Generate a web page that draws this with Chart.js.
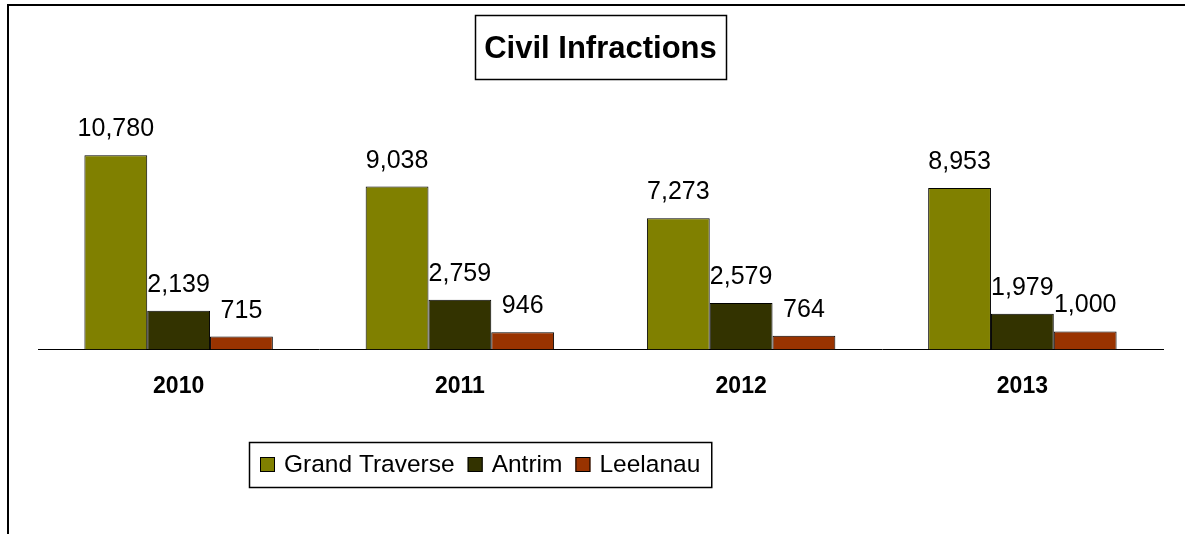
<!DOCTYPE html>
<html lang="en">
<head>
    <meta charset="UTF-8">
    <title>Civil Infractions</title>
    <style>
        html, body {
            margin: 0;
            padding: 0;
            background-color: #fff;
        }
        #wrap {
            width: 1185px;
            height: 534px;
        }
    </style>
    <script src="https://cdn.jsdelivr.net/npm/chart.js"></script>
</head>
<body>
    <div id="wrap"><canvas id="infractionsChart"></canvas></div>
    <script>
        // Values
        const years = ['2010', '2011', '2012', '2013'];
        const grandTraverse = [10780, 9038, 7273, 8953];
        const antrim = [2139, 2759, 2579, 1979];
        const leelanau = [715, 946, 764, 1000];

        const FONT = 'Arial, "Liberation Sans", sans-serif';

        // Frame lines on the left and top edge of the picture
        const framePlugin = {
            id: 'frame',
            beforeDraw(chart) {
                const ctx = chart.ctx;
                ctx.save();
                ctx.strokeStyle = '#000';
                ctx.lineWidth = 2;
                ctx.beginPath();
                ctx.moveTo(8, chart.height);
                ctx.lineTo(8, 5);
                ctx.lineTo(chart.width, 5);
                ctx.stroke();
                ctx.restore();
            }
        };

        // Box around the title text
        const titleBoxPlugin = {
            id: 'titleBox',
            afterDraw(chart) {
                const t = chart.titleBlock;
                const opts = chart.options.plugins.title;
                const ctx = chart.ctx;
                ctx.save();
                ctx.font = 'bold ' + opts.font.size + 'px ' + FONT;
                const w = ctx.measureText(opts.text).width;
                const cx = (t.left + t.right) / 2;
                ctx.strokeStyle = '#000';
                ctx.lineWidth = 1.5;
                ctx.strokeRect(Math.round(cx - w / 2 - 9) + 0.5, t.top + 15.5, Math.round(w + 18), 64);
                ctx.restore();
            }
        };

        // Value labels above each bar
        const valueLabelPlugin = {
            id: 'valueLabels',
            afterDatasetsDraw(chart) {
                const ctx = chart.ctx;
                ctx.save();
                ctx.font = '25px ' + FONT;
                ctx.fillStyle = '#000';
                ctx.textAlign = 'center';
                ctx.textBaseline = 'alphabetic';
                chart.data.datasets.forEach((ds, i) => {
                    chart.getDatasetMeta(i).data.forEach((bar, j) => {
                        ctx.fillText(ds.data[j].toLocaleString('en-US'), bar.x, bar.y - 19);
                    });
                });
                ctx.restore();
            }
        };

        // Boxed legend under the axis, drawn from the datasets
        const boxedLegendPlugin = {
            id: 'boxedLegend',
            afterDraw(chart) {
                const ctx = chart.ctx;
                const left = 249, top = 442, height = 45;
                const cy = top + height / 2;
                ctx.save();
                ctx.font = '24.5px ' + FONT;
                ctx.textBaseline = 'middle';
                ctx.textAlign = 'left';
                let x = left + 11;
                chart.data.datasets.forEach((ds, i) => {
                    ctx.fillStyle = ds.backgroundColor;
                    ctx.fillRect(x, cy - 7.5, 15, 15);
                    ctx.strokeStyle = '#000';
                    ctx.lineWidth = 1;
                    ctx.strokeRect(x + 0.5, cy - 7, 14, 14);
                    x += 15 + 9;
                    ctx.fillStyle = '#000';
                    ctx.fillText(ds.label, x, cy + 1);
                    x += ctx.measureText(ds.label).width;
                    if (i < chart.data.datasets.length - 1) x += 13;
                });
                x += 11;
                ctx.lineWidth = 1.5;
                ctx.strokeRect(left + 0.5, top + 0.5, x - left, height);
                ctx.restore();
            }
        };

        const config = {
            type: 'bar',
            data: {
                labels: years,
                datasets: [
                    { label: 'Grand Traverse', data: grandTraverse, backgroundColor: '#808000' },
                    { label: 'Antrim', data: antrim, backgroundColor: '#333300' },
                    { label: 'Leelanau', data: leelanau, backgroundColor: '#993300' }
                ]
            },
            options: {
                responsive: true,
                maintainAspectRatio: false,
                animation: false,
                datasets: {
                    bar: {
                        borderColor: '#000',
                        borderWidth: 1,
                        categoryPercentage: 0.67,
                        barPercentage: 1.0
                    }
                },
                layout: {
                    padding: { left: 38, right: 22, top: 0, bottom: 119 }
                },
                scales: {
                    x: {
                        grid: { display: false },
                        border: { display: true, color: '#000', width: 1 },
                        ticks: {
                            color: '#000',
                            padding: 15,
                            font: { family: FONT, size: 23, weight: 'bold' }
                        }
                    },
                    y: {
                        display: false,
                        min: 0,
                        max: 12000
                    }
                },
                plugins: {
                    legend: { display: false },
                    tooltip: { enabled: false },
                    title: {
                        display: true,
                        text: 'Civil Infractions',
                        color: '#000',
                        font: { family: FONT, size: 31, weight: 'bold' },
                        padding: { top: 31, bottom: 65 }
                    }
                }
            },
            plugins: [framePlugin, titleBoxPlugin, valueLabelPlugin, boxedLegendPlugin]
        };

        new Chart(document.getElementById('infractionsChart'), config);
    </script>
</body>
</html>
